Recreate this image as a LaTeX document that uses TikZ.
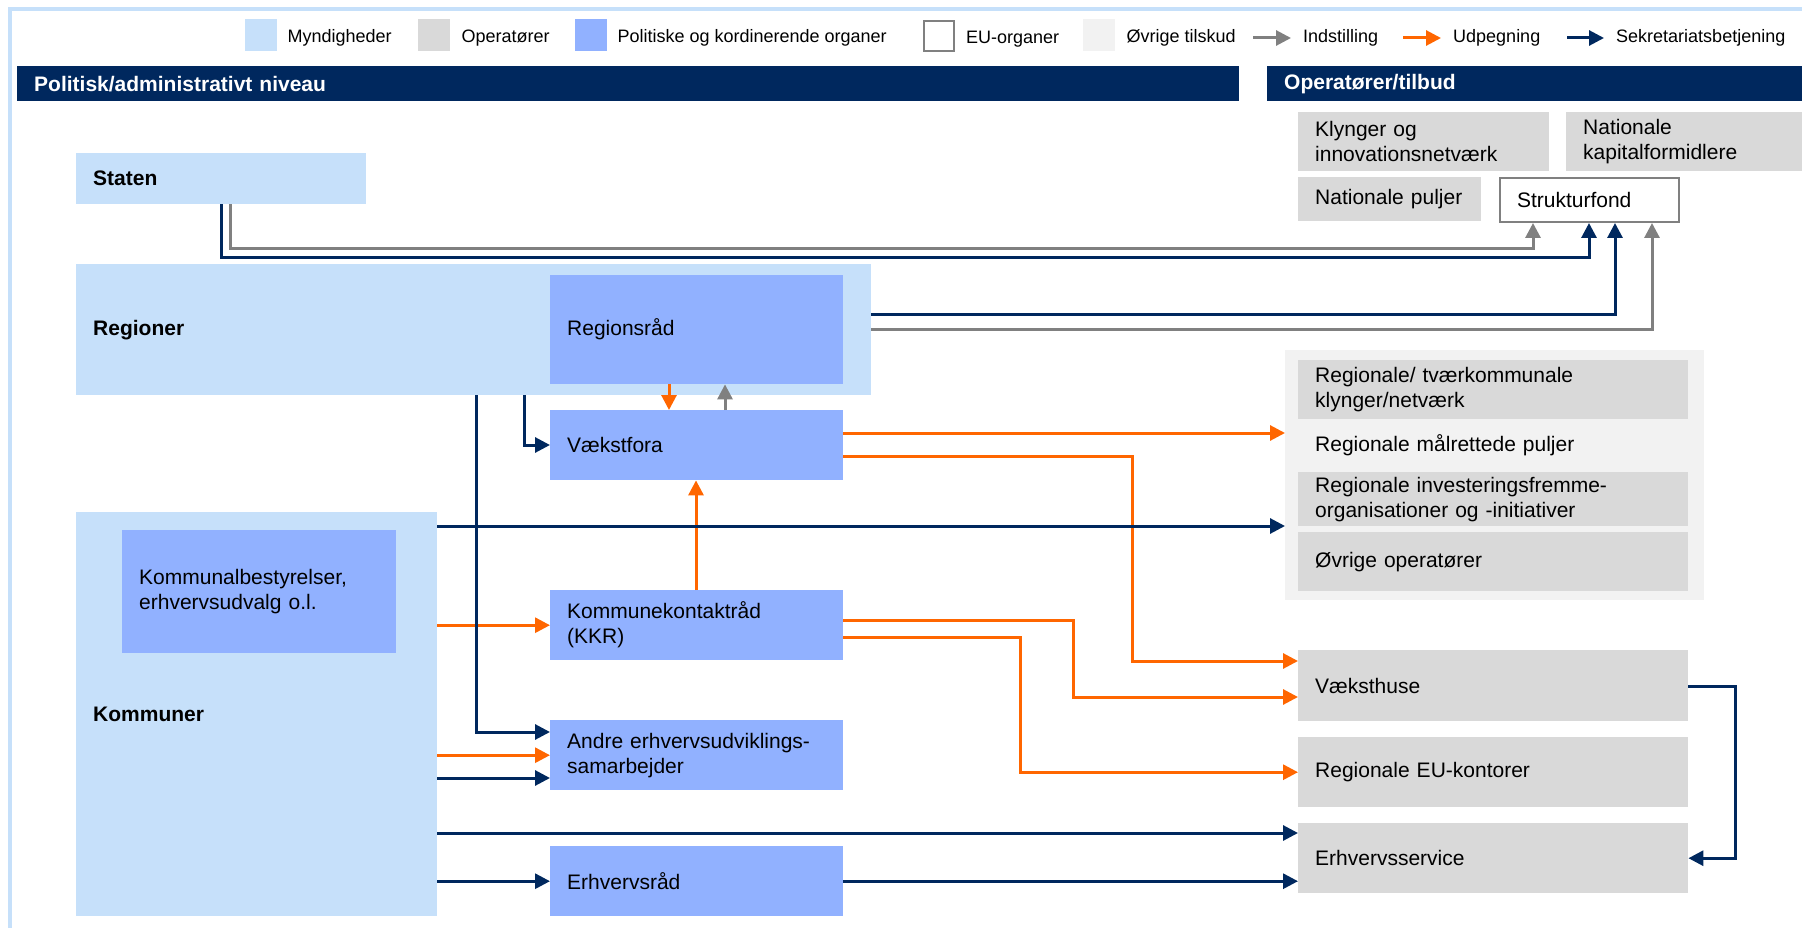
\documentclass[tikz,border=0pt]{standalone}
\usepackage{fontspec}
\setmainfont{Liberation Sans}
\usepackage{tikz}
\usetikzlibrary{positioning}
\usetikzlibrary{arrows.meta}

\definecolor{myndblaa}{HTML}{C6E0FA}
\definecolor{opergraa}{HTML}{D9D9D9}
\definecolor{polblaa}{HTML}{91B1FF}
\definecolor{tilskudgraa}{HTML}{F2F2F2}
\definecolor{marine}{HTML}{00285E}
\definecolor{udporange}{HTML}{FF6600}
\definecolor{indgraa}{HTML}{808080}

\tikzset{
  tekst/.style={font=\fontsize{21}{25}\selectfont},
  fed/.style={font=\fontsize{21}{25}\selectfont\bfseries},
  legtekst/.style={font=\fontsize{18}{21}\selectfont, inner sep=0pt, yshift=-3pt},
  boks/.style 2 args={anchor=north west, inner xsep=17pt, inner ysep=0pt, align=left, tekst,
    minimum width=#1pt, minimum height=#2pt,
    /utils/exec={\pgfmathsetmacro\tbredde{#1-34}}, text width=\tbredde pt},
  kvadrat/.style={anchor=north west, minimum size=32pt, inner sep=0pt},
  myn/.style={fill=myndblaa},
  oper/.style={fill=opergraa},
  pol/.style={fill=polblaa},
  eu/.style={fill=white, draw=indgraa, line width=2pt},
  bjaelke/.style={fill=marine, text=white, fed},
  pil/.style={line width=3pt, -{Triangle[length=15pt,width=15pt]}},
  ind/.style={pil, draw=indgraa},
  udp/.style={pil, draw=udporange},
  sek/.style={pil, draw=marine},
}

\begin{document}
\begin{tikzpicture}[x=1pt, y=-1pt]
  \useasboundingbox (0,0) rectangle (1802,928);
  % ramme
  \draw[myndblaa, line width=4pt] (10,928) |- (1802,9);

  % signaturforklaring
  \node[myn, kvadrat] (lmyn) at (245,19) {};
  \node[legtekst, right=10pt of lmyn] (tmyn) {Myndigheder};
  \node[oper, kvadrat] (loper) at (418,19) {};
  \node[legtekst, right=11pt of loper] (toper) {Operatører};
  \node[pol, kvadrat] (lpol) at (575,19) {};
  \node[legtekst, right=10pt of lpol] (tpol) {Politiske og kordinerende organer};
  \node[eu, kvadrat, minimum size=30pt] (leu) at (923,20) {};
  \node[legtekst, right=11pt of leu] (teu) {EU-organer};
  \node[fill=tilskudgraa, kvadrat] (ltil) at (1083,19) {};
  \node[legtekst, right=11pt of ltil] (ttil) {Øvrige tilskud};
  \node[legtekst, anchor=west] (tind) at (1303,35) {Indstilling};
  \node[legtekst, anchor=west] (tudp) at (1453,35) {Udpegning};
  \node[legtekst, anchor=west] (tsek) at (1616,35) {Sekretariatsbetjening};
  \draw[ind] ([xshift=-50pt]tind.west) -- ([xshift=-12pt]tind.west);
  \draw[udp] ([xshift=-50pt]tudp.west) -- ([xshift=-12pt]tudp.west);
  \draw[sek] ([xshift=-49pt]tsek.west) -- ([xshift=-12pt]tsek.west);

  % overskrifter
  \node[boks={1222}{35}, bjaelke] (polniv) at (17,66) {Politisk/administrativt niveau};
  \node[boks={535}{35}, bjaelke] (opniv) at (1267,66) {Operatører/tilbud};

  % politisk/administrativt niveau
  \node[myn, boks={290}{51}, fed] (staten) at (76,153) {Staten};
  \node[myn, boks={795}{131}, fed] (regioner) at (76,264) {Regioner};
  \node[pol, boks={293}{109}] (regionsraad) at (550,275) {Regionsråd};
  \node[pol, boks={293}{70}] (vaekstfora) at (550,410) {Vækstfora};
  \node[myn, boks={361}{404}, fed] (kommuner) at (76,512) {Kommuner};
  \node[pol, boks={274}{123}] (kombest) at (122,530) {Kommunalbestyrelser,\\erhvervsudvalg o.l.};
  \node[pol, boks={293}{70}] (kkr) at (550,590) {Kommunekontaktråd\\(KKR)};
  \node[pol, boks={293}{70}] (andre) at (550,720) {Andre erhvervsudviklings-\\samarbejder};
  \node[pol, boks={293}{70}] (erhvraad) at (550,846) {Erhvervsråd};

  % operatoerer/tilbud
  \node[oper, boks={251}{59}] (klynger) at (1298,112) {Klynger og\\innovationsnetværk};
  \node[oper, boks={236}{59}] (kapital) at (1566,112) {Nationale\\kapitalformidlere};
  \node[oper, boks={183}{44}] (natpuljer) at (1298,177) {Nationale puljer};
  \node[eu, boks={179}{44}] (struktur) at (1499,177) {Strukturfond};
  \node[fill=tilskudgraa, boks={419}{250}] (tilskud) at (1285,350) {};
  \node[oper, boks={390}{59}] (tvaerkom) at (1298,360) {Regionale/ tværkommunale\\klynger/netværk};
  \node[boks={390}{42}] (maalrettet) at (1298,424) {Regionale målrettede puljer};
  \node[oper, boks={390}{54}] (invest) at (1298,472) {Regionale investeringsfremme-\\organisationer og -initiativer};
  \node[oper, boks={390}{59}] (ovrige) at (1298,532) {Øvrige operatører};
  \node[oper, boks={390}{71}] (vaeksthuse) at (1298,650) {Væksthuse};
  \node[oper, boks={390}{70}] (eukontor) at (1298,737) {Regionale EU-kontorer};
  \node[oper, boks={390}{70}] (service) at (1298,823) {Erhvervsservice};

  % staten og regioner -> strukturfond
  \draw[ind] ([xshift=154pt]staten.south west) -- ++(0,44) -| ([xshift=34pt]struktur.south west);
  \draw[sek] ([xshift=145pt]staten.south west) -- ++(0,53) -| ([xshift=90pt]struktur.south west);
  \draw[sek] ([yshift=-50pt]regioner.north east) -| ([xshift=116pt]struktur.south west);
  \draw[ind] ([yshift=-65pt]regioner.north east) -| ([xshift=153pt]struktur.south west);

  % udpegning
  \draw[udp] ([xshift=119pt]regionsraad.south west) -- ([xshift=119pt]vaekstfora.north west);
  \draw[udp] ([xshift=146pt]kkr.north west) -- ([xshift=146pt]vaekstfora.south west);
  \draw[udp] ([yshift=-23pt]vaekstfora.north east) coordinate (v1) -- (v1 -| tilskud.west);
  \draw[udp] ([yshift=-46pt]vaekstfora.north east) -| ([xshift=-166pt,yshift=-11pt]vaeksthuse.north west)
    -- ([yshift=-11pt]vaeksthuse.north west);
  \draw[udp] ([yshift=-30pt]kkr.north east) -| ([xshift=-225pt,yshift=-47pt]vaeksthuse.north west)
    -- ([yshift=-47pt]vaeksthuse.north west);
  \draw[udp] ([yshift=-47pt]kkr.north east) -| ([xshift=-278pt]eukontor.west) -- (eukontor.west);
  \draw[udp] (kommuner.east |- kkr.west) -- (kkr.west);
  \draw[udp] (kommuner.east |- andre.west) -- (andre.west);

  % indstilling
  \draw[ind] ([xshift=175pt]vaekstfora.north west) -- ([xshift=175pt]regionsraad.south west);

  % sekretariatsbetjening
  \draw[sek] ([xshift=448pt]regioner.south west) |- ([yshift=-35pt]vaekstfora.north west);
  \draw[sek] ([xshift=400pt]regioner.south west) |- ([yshift=-12pt]andre.north west);
  \draw[sek] ([yshift=-14pt]kommuner.north east) coordinate (k1) -- (k1 -| tilskud.west);
  \coordinate (a1) at ([yshift=-58pt]andre.north west);
  \draw[sek] (kommuner.east |- a1) -- (a1);
  \coordinate (s1) at ([yshift=-10pt]service.north west);
  \draw[sek] (kommuner.east |- s1) -- (s1);
  \draw[sek] (kommuner.east |- erhvraad.west) -- (erhvraad.west);
  \draw[sek] (erhvraad.east) -- (erhvraad.east -| service.west);
  \draw[sek] ([yshift=-36pt]vaeksthuse.north east) -| ([xshift=47pt]service.east) -- (service.east);
\end{tikzpicture}
\end{document}
